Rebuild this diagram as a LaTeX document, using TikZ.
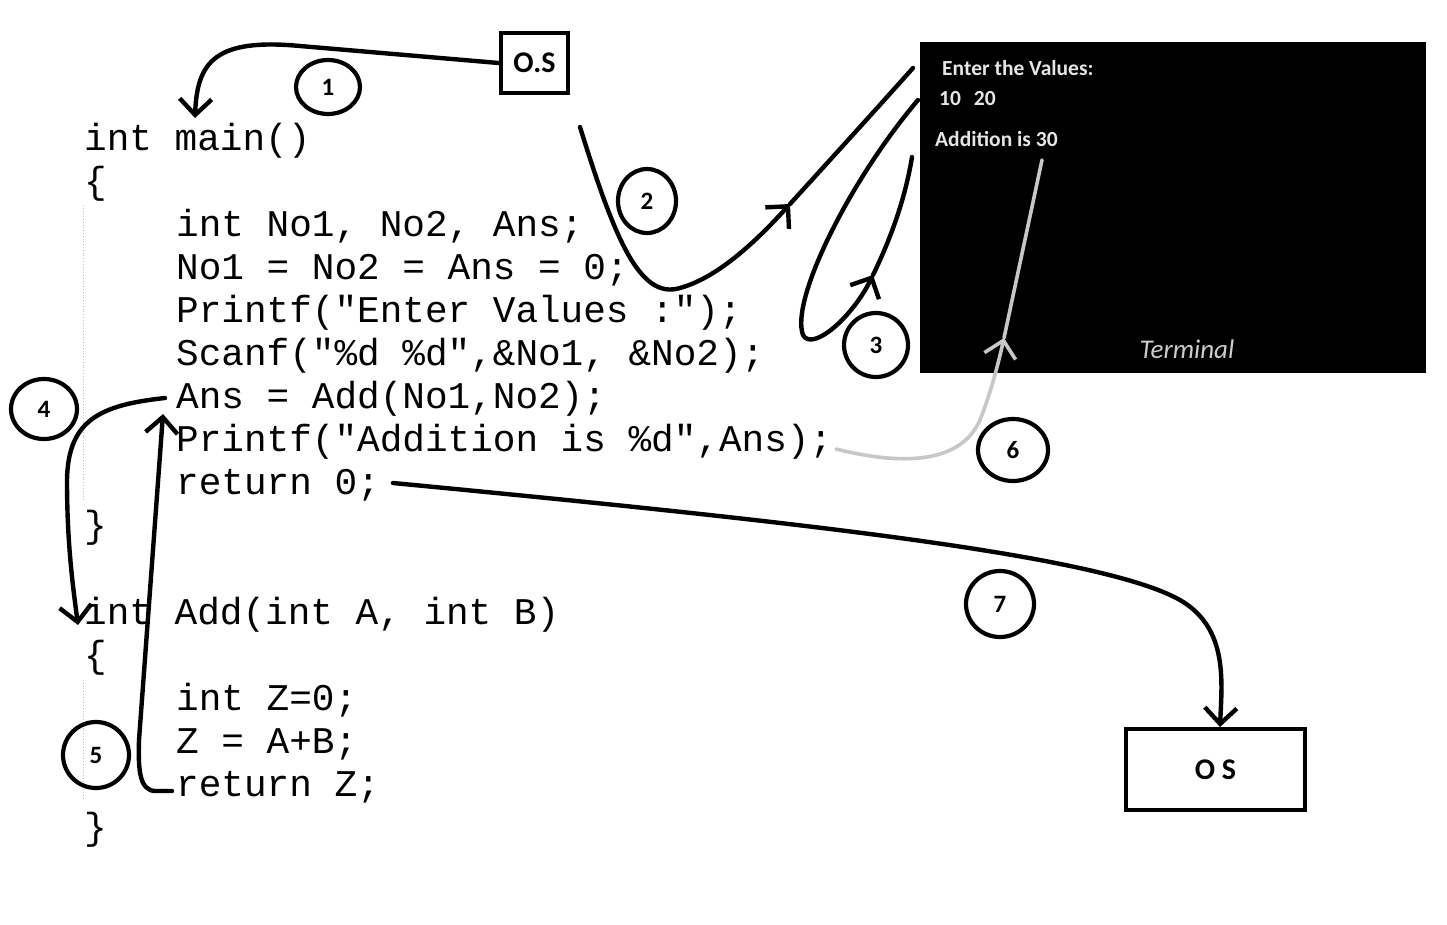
\documentclass[tikz,border=0pt]{standalone}
\usepackage{fontspec}
\usetikzlibrary{arrows.meta,shapes.geometric}
\newfontfamily\codefont{Liberation Mono}
\newfontfamily\calfont{Carlito}
\begin{document}
\begin{tikzpicture}[x=1pt,y=-1pt,
  code/.style={anchor=base west,inner sep=0pt,font=\codefont\fontsize{37.7}{40}\selectfont},
  flow/.style={line width=4.4pt,line cap=round,line join=round,draw=black},
  grayflow/.style={line width=3.6pt,line cap=round,line join=round,draw=black!22},
  tip/.style={-{Straight Barb[length=16pt,width=32pt]}},
  num/.style={ellipse,draw,line width=4.2pt,inner sep=0pt,font=\calfont\bfseries\fontsize{25}{26}\selectfont},
  osbox/.style={rectangle,draw,line width=4.6pt,inner sep=0pt,font=\calfont\bfseries\fontsize{30}{32}\selectfont},
  termtxt/.style={anchor=west,inner sep=0pt,text=black!10,font=\calfont\bfseries\fontsize{21.5}{23}\selectfont},
  guide/.style={draw=black!25,line width=0.8pt,dotted}
]
\useasboundingbox[fill=white] (0,0) rectangle (1447,924);

% guide lines
\draw[guide] (83,205) -- (83,500);
\draw[guide] (83,680) -- (83,800);

% code
\def\lh{43.1}
\node[code] (l0) at (84,150) {int main()};
\node[code] (l1) at (84,150+1*\lh) {\{};
\node[code] (l2) at (176,150+2*\lh) {int No1, No2, Ans;};
\node[code] (l3) at (176,150+3*\lh) {No1 = No2 = Ans = 0;};
\node[code] (l4) at (176,150+4*\lh) {Printf("Enter Values :");};
\node[code] (l5) at (176,150+5*\lh) {Scanf("\%d \%d",\&No1, \&No2);};
\node[code] (l6) at (176,150+6*\lh) {Ans = Add(No1,No2);};
\node[code] (l7) at (176,150+7*\lh) {Printf("Addition is \%d",Ans);};
\node[code] (l8) at (176,150+8*\lh) {return 0;};
\node[code] (l9) at (84,150+9*\lh) {\}};
\node[code] (l11) at (84,150+11*\lh) {int Add(int A, int B)};
\node[code] (l12) at (84,150+12*\lh) {\{};
\node[code] (l13) at (176,150+13*\lh) {int Z=0;};
\node[code] (l14) at (176,150+14*\lh) {Z = A+B;};
\node[code] (l15) at (176,150+15*\lh) {return Z;};
\node[code] (l16) at (84,150+16*\lh) {\}};

% terminal
\node[fill=black,minimum width=506pt,minimum height=331pt,inner sep=0pt,anchor=north west] (term) at (920,42) {};
\node[termtxt] (t1) at (942,68) {Enter the Values:};
\node[termtxt] (t2) at (939,99) {10\hspace{0.6em}20};
\node[termtxt] (t3) at (935,139) {Addition is 30};
\node[inner sep=0pt,text=black!20,font=\calfont\itshape\fontsize{27}{29}\selectfont] (t4) at (1187,349) {Terminal};

% OS boxes
\node[osbox,minimum width=67pt,minimum height=60pt] (osA) at (534.5,63) {O.S};
\node[osbox,minimum width=179pt,minimum height=81pt] (osB) at (1215.5,769.5) {O S};

% numbered circles
\node[num,minimum width=64pt,minimum height=54pt] (n1) at (328,87) {1};
\node[num,minimum width=58pt,minimum height=64pt] (n2) at (647,201) {2};
\node[num,minimum width=64pt,minimum height=64pt] (n3) at (876,345) {3};
\node[num,minimum width=66pt,minimum height=60pt] (n4) at (44,409) {4};
\node[num,minimum width=66pt,minimum height=66pt] (n5) at (96,755) {5};
\node[num,minimum width=70pt,minimum height=62pt] (n6) at (1013,450) {6};
\node[num,minimum width=68pt,minimum height=66pt] (n7) at (1000,604) {7};

% connector end points
\coordinate (e1) at (195,118);
\coordinate (s2) at (580,127);
\coordinate (m2) at (790,204);
\coordinate (e2) at (913,68);
\coordinate (s3) at (918,100);
\coordinate (m3) at (873,275);
\coordinate (e3) at (912,157);
\coordinate (s4) at (165,398);
\coordinate (e4) at (78,625);
\coordinate (s5) at (172,791);
\coordinate (e5) at (163,414);
\coordinate (s6) at (836,449);
\coordinate (m6) at (1004,338);
\coordinate (e6) at (1042,160);
\coordinate (s7) at (393,483);
\coordinate (e7) at (1220,727);

% 1: OS -> main
\draw[flow,tip] (osA.west) -- (300,46) .. controls (215,38) and (197,62) .. (e1);
% 2: main -> terminal
\draw[flow,tip] (s2) .. controls (615,240) and (640,300) .. (680,288) .. controls (720,277) and (760,237) .. (m2);
\draw[flow] (m2) .. controls (830,160) and (880,105) .. (e2);
% 3: terminal -> scanf
\draw[flow,tip] (s3) .. controls (850,180) and (790,300) .. (803,335) .. controls (812,352) and (852,318) .. (m3);
\draw[flow] (m3) .. controls (890,240) and (905,200) .. (e3);
% 4: Ans -> Add
\draw[flow,tip] (s4) .. controls (100,405) and (68,420) .. (67,480) .. controls (67,540) and (72,580) .. (e4);
% 5: return Z -> Ans
\draw[flow,tip] (s5) -- (155,791) .. controls (140,790) and (138,772) .. (139,740) -- (e5);
% 6: printf -> terminal
\draw[grayflow,tip] (s6) .. controls (900,465) and (960,465) .. (980,420) .. controls (990,395) and (998,365) .. (m6);
\draw[grayflow] (m6) -- (e6);
% 7: return 0 -> OS
\draw[flow,tip] (s7) .. controls (800,522) and (1100,555) .. (1180,600) .. controls (1228,628) and (1222,680) .. (e7);
\end{tikzpicture}
\end{document}
